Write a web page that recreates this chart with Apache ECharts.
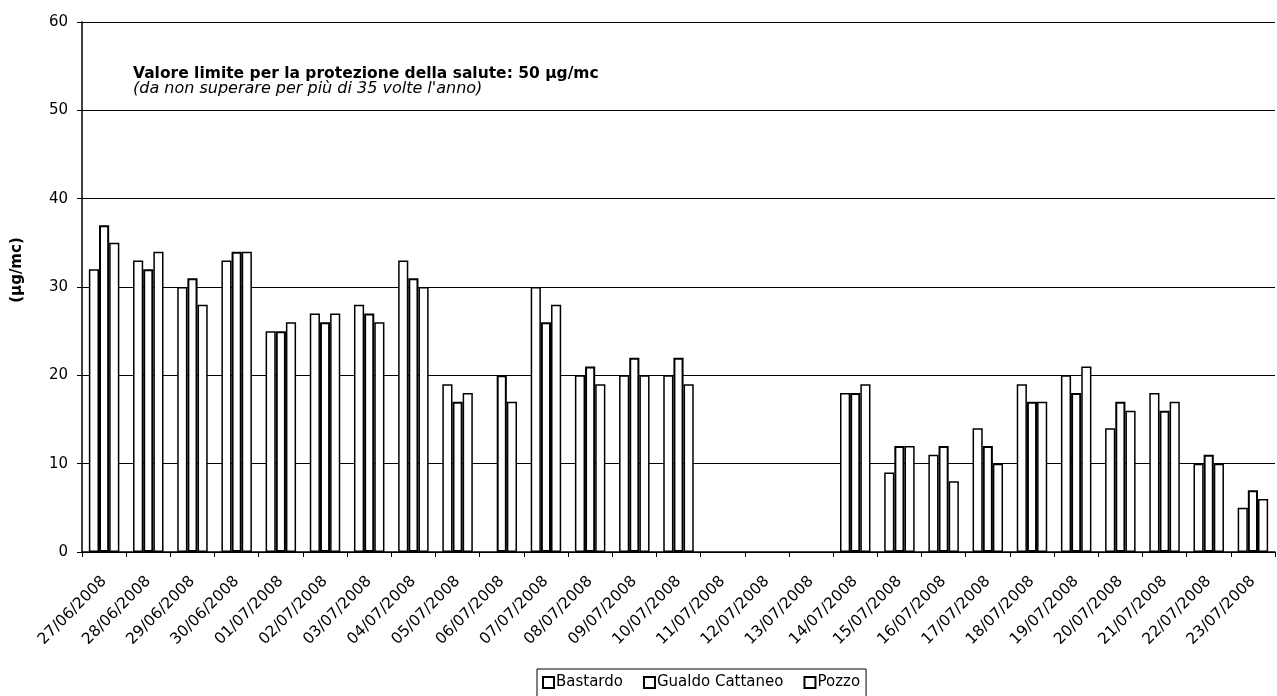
<!DOCTYPE html>
<html>
<head>
<meta charset="utf-8">
<script src="https://cdn.jsdelivr.net/npm/echarts@6/dist/echarts.min.js"></script>
<style>
html,body{margin:0;padding:0;background:#fff;}
#c{width:1277px;height:696px;}
</style>
</head>
<body>
<div id="c"></div>
<script>
const categories = ['27/06/2008','28/06/2008','29/06/2008','30/06/2008','01/07/2008','02/07/2008','03/07/2008','04/07/2008','05/07/2008','06/07/2008','07/07/2008','08/07/2008','09/07/2008','10/07/2008','11/07/2008','12/07/2008','13/07/2008','14/07/2008','15/07/2008','16/07/2008','17/07/2008','18/07/2008','19/07/2008','20/07/2008','21/07/2008','22/07/2008','23/07/2008'];
const bastardo = [32,33,30,33,25,27,28,33,19,null,30,20,20,20,null,null,null,18,9,11,14,19,20,14,18,10,5];
const gualdo   = [37,32,31,34,25,26,27,31,17,20,26,21,22,22,null,null,null,18,12,12,12,17,18,17,16,11,7];
const pozzo    = [35,34,28,34,26,27,26,30,18,17,28,19,20,19,null,null,null,19,12,8,10,17,21,16,17,10,6];
const yTicks = [0,10,20,30,40,50,60];

const FONT = '"DejaVu Sans", "Liberation Sans", Arial, sans-serif';
const chart = echarts.init(document.getElementById('c'), null, {renderer:'canvas'});

function barSeries(name, data, bw){
  return {
    name: name, type: 'bar', data: data,
    barGap: '0%', barCategoryGap: '31%',
    itemStyle: {color: '#ffffff', borderColor: '#000', borderWidth: bw},
    emphasis: {disabled: true}
  };
}

chart.setOption({
  animation: false,
  backgroundColor: '#fff',
  textStyle: {fontFamily: FONT, color: '#000'},
  grid: {left: 82, right: 2, top: 22, bottom: 144, containLabel: false},
  legend: {
    top: 669, left: 537,
    icon: 'rect', itemWidth: 11, itemHeight: 11, itemGap: 20,
    borderColor: '#000', borderWidth: 1, padding: [6, 6, 8, 5],
    textStyle: {fontFamily: FONT, fontSize: 15, color: '#000', padding: [0,0,0,-3]},
    itemStyle: {color: '#fff', borderColor: '#000', borderWidth: 2},
    data: ['Bastardo','Gualdo Cattaneo','Pozzo']
  },
  xAxis: {
    type: 'category', data: categories, boundaryGap: true,
    axisLine: {lineStyle: {color: '#000', width: 1.5}},
    axisTick: {show: true, alignWithLabel: false, length: 5, lineStyle: {color: '#000'}},
    axisLabel: {rotate: 45, interval: 0, fontSize: 15.5, color: '#000', fontFamily: FONT, margin: 27},
    splitLine: {show: false}
  },
  yAxis: {
    type: 'value', min: yTicks[0], max: yTicks[yTicks.length-1], interval: 10,
    axisLine: {show: true, lineStyle: {color: '#000', width: 1.5}},
    axisTick: {show: true, inside: false, length: 5, lineStyle: {color: '#000'}},
    axisLabel: {fontSize: 15, color: '#000', fontFamily: FONT, margin: 14},
    splitLine: {show: true, lineStyle: {color: '#000', width: 1.2}}
  },
  graphic: [
    {type: 'text', left: 133, top: 66, style: {text: 'Valore limite per la protezione della salute: 50 µg/mc', font: 'bold 15.5px ' + FONT, fill: '#000'}},
    {type: 'text', left: 133, top: 81, style: {text: "(da non superare per più di 35 volte l'anno)", font: 'italic 16px ' + FONT, fill: '#000'}},
    {type: 'text', x: 17, y: 270, rotation: Math.PI / 2, style: {text: '(µg/mc)', font: 'bold 15px ' + FONT, fill: '#000', align: 'center', verticalAlign: 'middle'}}
  ],
  series: [
    barSeries('Bastardo', bastardo, 1.5),
    barSeries('Gualdo Cattaneo', gualdo, 2),
    barSeries('Pozzo', pozzo, 1.5)
  ]
});
</script>
</body>
</html>
